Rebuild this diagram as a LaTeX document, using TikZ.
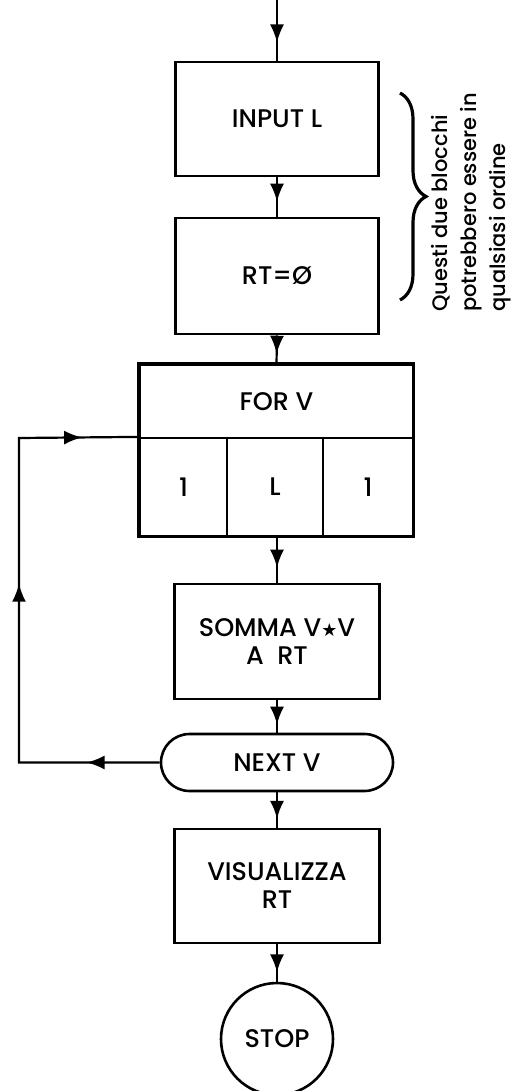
\documentclass[tikz,border=0pt]{standalone}
\usepackage{fontspec}
\setmainfont{Poppins}[UprightFont=* Medium]
\newfontfamily\symfont{DejaVu Sans}
\usetikzlibrary{arrows.meta,decorations.markings,decorations.pathreplacing,shapes.misc}
\tikzset{
  blk/.style={draw,line width=2.6pt,inner sep=0pt,align=center,
    font=\fontsize{25.5}{28}\selectfont},
  cell/.style={draw,line width=2.2pt,inner sep=0pt,
    font=\fontsize{25.5}{28}\selectfont},
  conn/.style={line width=2.2pt},
  midarr/.style={postaction={decorate},decoration={markings,
    mark=at position #1 with {\arrow{Latex[length=18pt,width=14pt]}}}},
  sidetext/.style={align=left,font=\fontsize{21}{29}\selectfont,inner sep=0pt}
}
\begin{document}
\begin{tikzpicture}[x=1pt,y=-1pt]
\useasboundingbox (0,0) rectangle (517,1091);
\coordinate (top) at (277,0);
\node[blk,minimum width=203pt,minimum height=114pt] (input) at (277,119) {INPUT L};
\node[blk,minimum width=203pt,minimum height=116pt] (rt) at (277,276) {RT=Ø};
\node[blk,minimum width=273pt,minimum height=73pt] (forv) at (276.5,401.5) {FOR V};
\node[cell,minimum width=87pt,minimum height=98pt] (c1) at (183.5,487) {1};
\node[cell,minimum width=96pt,minimum height=98pt] (c2) at (275,487) {L};
\node[cell,minimum width=90pt,minimum height=98pt] (c3) at (368,487) {1};
\draw[line width=2.6pt] (forv.north west) rectangle (c3.south east);
\node[blk,minimum width=205pt,minimum height=115pt] (somma) at (277,641.5) {SOMMA V{\symfont\fontsize{18}{18}\selectfont ★}V\\A\ \ RT};
\node[blk,rounded rectangle,minimum width=232pt,minimum height=57pt] (next) at (277,762.5) {NEXT V};
\node[blk,minimum width=205pt,minimum height=114pt] (visu) at (277,886) {VISUALIZZA\\RT};
\node[blk,circle,minimum size=112pt] (stop) at (277,1039) {STOP};

\draw[conn,midarr=0.7] (top) -- (input.north);
\draw[conn,midarr=0.62] (input.south) -- (rt.north);
\draw[conn,midarr=0.65] (rt.south) -- (forv.north);
\draw[conn,midarr=0.67] (c2.south -| somma.north) -- (somma.north);
\draw[conn,midarr=0.75] (somma.south) -- (next.north);
\draw[conn,midarr=0.75] (next.south) -- (visu.north);
\draw[conn,midarr=0.75] (visu.south) -- (stop.north);

\coordinate (l1) at (19,762.5);
\coordinate (l2) at (19,438);
\draw[conn,line join=miter,postaction={decorate},decoration={markings,
  mark=at position 0.125 with {\arrow{Latex[length=18pt,width=14pt]}},
  mark=at position 0.546 with {\arrow{Latex[length=18pt,width=14pt]}},
  mark=at position 0.903 with {\arrow{Latex[length=18pt,width=14pt]}}}]
  (next.west) -- (l1) -- (l2) -- (c1.north west);

\draw[line width=3.2pt,decorate,decoration={brace,amplitude=26pt}] (400,93) -- (400,300);
\node[sidetext,rotate=90,anchor=north west] (note) at (431,312)
  {Questi due blocchi\\potrebbero essere in\\qualsiasi ordine};
\end{tikzpicture}
\end{document}
